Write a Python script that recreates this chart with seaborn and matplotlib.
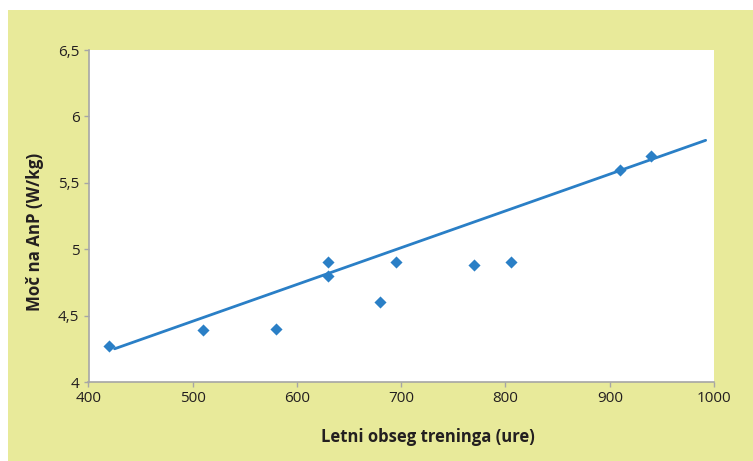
import matplotlib
matplotlib.use("Agg")
import matplotlib.pyplot as plt
from matplotlib.patches import Rectangle
import seaborn as sns
import pandas as pd

# Annual training volume (hours) vs. power at the anaerobic threshold (W/kg)
hours = [420, 510, 580, 630, 630, 680, 695, 770, 805, 910, 940]
power = [4.27, 4.39, 4.40, 4.90, 4.80, 4.60, 4.90, 4.88, 4.90, 5.60, 5.70]

# Trend line end points
trend_x = [425, 992]
trend_y = [4.25, 5.82]

x_ticks = [400, 500, 600, 700, 800, 900, 1000]
y_ticks = [4, 4.5, 5, 5.5, 6, 6.5]
y_tick_labels = ["4", "4,5", "5", "5,5", "6", "6,5"]

x_label = "Letni obseg treninga (ure)"
y_label = "Moč na AnP (W/kg)"

sns.set_theme(style="white")
plt.rcParams["font.family"] = ["Open Sans", "DejaVu Sans"]

W, H = 753, 461
fig = plt.figure(figsize=(W / 100, H / 100), dpi=100)
fig.patch.set_facecolor("white")

panel = "#e8ea9a"
fig.patches.append(Rectangle((8 / W, 0), 1 - 8 / W, (H - 10) / H,
                             transform=fig.transFigure, facecolor=panel,
                             edgecolor="none", zorder=-10))

ax = fig.add_axes([88.5 / W, (H - 382) / H, (714 - 88.5) / W, (382 - 50) / H])
ax.set_zorder(1)
ax.set_facecolor("white")

blue = "#2a7fc6"
df = pd.DataFrame({"hours": hours, "power": power})
trend = pd.DataFrame({"hours": trend_x, "power": trend_y})

sns.lineplot(data=trend, x="hours", y="power", ax=ax, color=blue, linewidth=2.0)
sns.scatterplot(data=df, x="hours", y="power", ax=ax, marker="D", s=38,
                color=blue, edgecolor=blue, linewidth=0, zorder=3)

ax.set_xlim(400, 1000)
ax.set_ylim(4, 6.5)
ax.set_xticks(x_ticks)
ax.set_xticklabels([str(t) for t in x_ticks])
ax.set_yticks(y_ticks)
ax.set_yticklabels(y_tick_labels)
ax.set_xlabel("")
ax.set_ylabel("")

for side in ["top", "right"]:
    ax.spines[side].set_visible(False)
for side in ["left", "bottom"]:
    ax.spines[side].set_color("#a6a6a6")
    ax.spines[side].set_linewidth(1.2)

ax.tick_params(axis="both", which="major", direction="out", length=3.5,
               width=1.0, color="#a6a6a6", labelsize=11, labelcolor="#231f20",
               pad=3, left=True, bottom=True)

fig.text(428 / W, 1 - 437 / H, x_label, ha="center", va="center",
         fontsize=12, fontweight="bold", color="#231f20")
fig.text(35 / W, 1 - 232 / H, y_label, ha="center", va="center",
         rotation=90, fontsize=12.2, fontweight="bold", color="#231f20")

fig.savefig("out.png", dpi=100)
